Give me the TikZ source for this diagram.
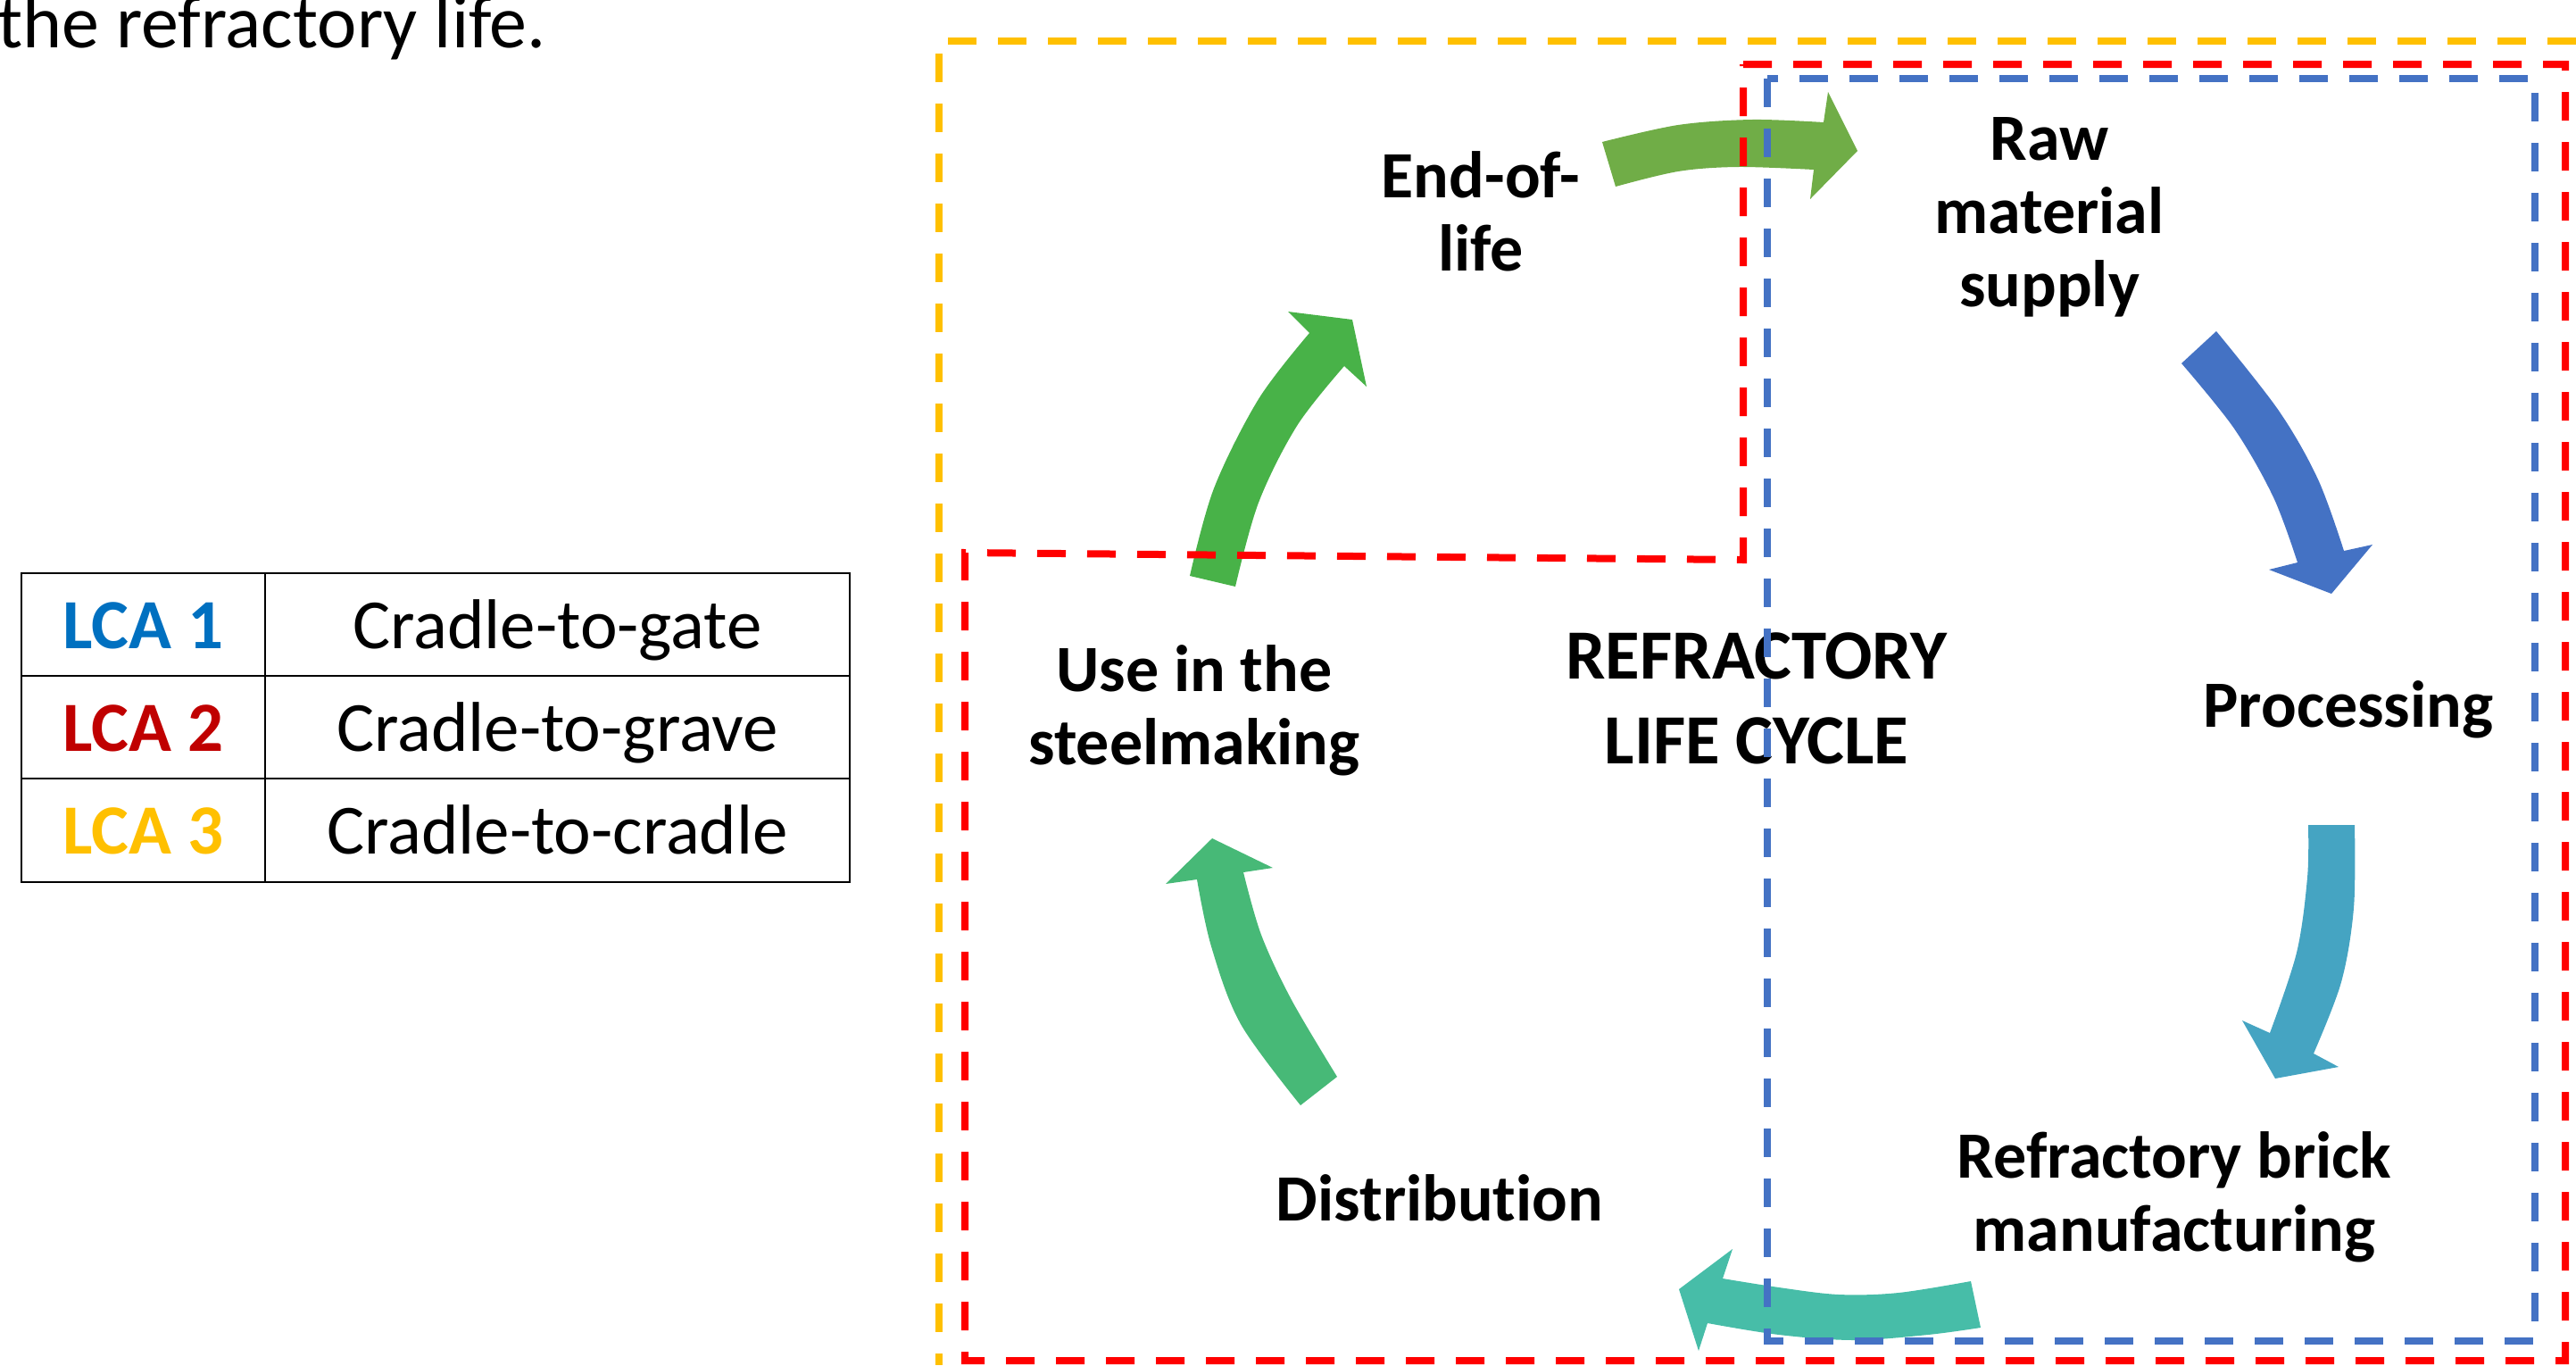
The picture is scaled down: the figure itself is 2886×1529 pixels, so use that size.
\documentclass[tikz,border=0pt]{standalone}
\usepackage{fontspec}
\setmainfont{Carlito}[Ligatures=NoCommon]
\definecolor{lcaBlue}{HTML}{0070C0}
\definecolor{lcaRed}{HTML}{C00000}
\definecolor{lcaGold}{HTML}{FFC000}
\definecolor{boxRed}{HTML}{FF0000}
\definecolor{boxBlue}{HTML}{4472C4}
\definecolor{arOlive}{HTML}{70AD47}
\definecolor{arBlue}{HTML}{4472C4}
\definecolor{arCyan}{HTML}{45A4C2}
\definecolor{arTeal}{HTML}{47BDA8}
\definecolor{arMint}{HTML}{47B977}
\definecolor{arGreen}{HTML}{48B248}
\tikzset{
  lbl/.style={font=\fontsize{74}{82}\selectfont\bfseries, align=center, inner sep=0pt, anchor=base},
  cell/.style={font=\fontsize{79}{82}\selectfont, inner sep=0pt, anchor=base},
  cellhead/.style={cell, font=\fontsize{79}{82}\selectfont\bfseries},
  grid/.style={draw=black, line width=2.5pt},
  zone/.style={line width=#1, dash pattern=on 32pt off 24pt},
  zone/.default=8pt,
  smoothedge/.style={smooth, tension=0.55}
}
\begin{document}
\begin{tikzpicture}[x=1pt, y=-1pt]
\useasboundingbox (0,0) rectangle (2886,1529);

% caption fragment
\node[font=\fontsize{84}{88}\selectfont, inner sep=0pt, anchor=base east] (caption) at (612,53) {the refractory life.};

% legend table
\draw[grid] (24,642) rectangle (952,988);
\draw[grid] (297,642) -- (297,988);
\draw[grid] (24,757) -- (952,757);
\draw[grid] (24,872) -- (952,872);
\node[cellhead, text=lcaBlue] (lca1) at (160.5,726.7) {LCA 1};
\node[cellhead, text=lcaRed]  (lca2) at (160.5,841.7) {LCA 2};
\node[cellhead, text=lcaGold] (lca3) at (160.5,956.7) {LCA 3};
\node[cell] (gate)   at (624.5,726.7) {Cradle-to-gate};
\node[cell] (grave)  at (624.5,841.7) {Cradle-to-grave};
\node[cell] (cradle) at (624.5,956.7) {Cradle-to-cradle};

% cycle arrows
\fill[arOlive] (1795,159) -- plot[smoothedge] coordinates {(1795,159) (1880,140) (1963,134) (2043,137)}
  -- (2048,103) -- (2081,169) -- (2028,223) -- (2032,190)
  -- plot[smoothedge] coordinates {(2032,190) (1947,187) (1880,192) (1810,209)} -- cycle;
\fill[arBlue] (2483,371) -- plot[smoothedge] coordinates {(2483,371) (2553,460) (2597,537) (2626,617)}
  -- (2658,610) -- (2612,665) -- (2542,638) -- (2574,630)
  -- plot[smoothedge] coordinates {(2574,630) (2547,557) (2503,480) (2444,407)} -- cycle;
\fill[arCyan] (2638,924) -- plot[smoothedge] coordinates {(2638,924) (2637,1017) (2623,1100) (2592,1180)}
  -- (2620,1195) -- (2549,1208) -- (2512,1143) -- (2543,1157)
  -- plot[smoothedge] coordinates {(2543,1157) (2573,1067) (2585,983) (2586,924)} -- cycle;
\fill[arTeal] (2208,1435) -- plot[smoothedge] coordinates {(2208,1435) (2127,1448) (2060,1450) (1993,1442) (1930,1432)}
  -- (1941,1399) -- (1881,1444) -- (1903,1513) -- (1913,1482)
  -- plot[smoothedge] coordinates {(1913,1482) (1993,1495) (2077,1501) (2160,1495) (2219,1487)} -- cycle;
\fill[arMint] (1498,1206) -- plot[smoothedge] coordinates {(1498,1206) (1447,1120) (1413,1047) (1393,977)}
  -- (1426,972) -- (1358,939) -- (1306,990) -- (1341,985)
  -- plot[smoothedge] coordinates {(1341,985) (1357,1060) (1390,1147) (1457,1238)} -- cycle;
\fill[arGreen] (1333,645) -- plot[smoothedge] coordinates {(1333,645) (1360,547) (1410,447) (1467,373)}
  -- (1443,349) -- (1515,358) -- (1531,433) -- (1506,410)
  -- plot[smoothedge] coordinates {(1506,410) (1453,477) (1410,563) (1384,657)} -- cycle;

% stage labels (base anchor sits on the last line)
\node[lbl] (eol)   at (1659,303) {End-of-\\life};
\node[lbl] (raw)   at (2296,343) {Raw\\material\\supply};
\node[lbl] (proc)  at (2631,814) {Processing};
\node[lbl] (brick) at (2436,1401) {Refractory brick\\manufacturing};
\node[lbl] (dist)  at (1613,1367) {Distribution};
\node[lbl] (use)   at (1338,856) {Use in the\\steelmaking};
\node[lbl, font=\fontsize{79}{95}\selectfont\bfseries] (title) at (1968,855) {REFRACTORY\\LIFE CYCLE};

% system boundaries
\draw[zone, lcaGold] (2886,46) -- (1052,46) -- (1052,1529);
\draw[zone, boxRed] (1953,72) -- (2874,72) -- (2874,1524) -- (1081,1524) -- (1081,619) -- (1953,627) -- cycle;
\draw[zone=7.5pt, boxBlue] (1980,88) rectangle (2840,1502);
\end{tikzpicture}
\end{document}
